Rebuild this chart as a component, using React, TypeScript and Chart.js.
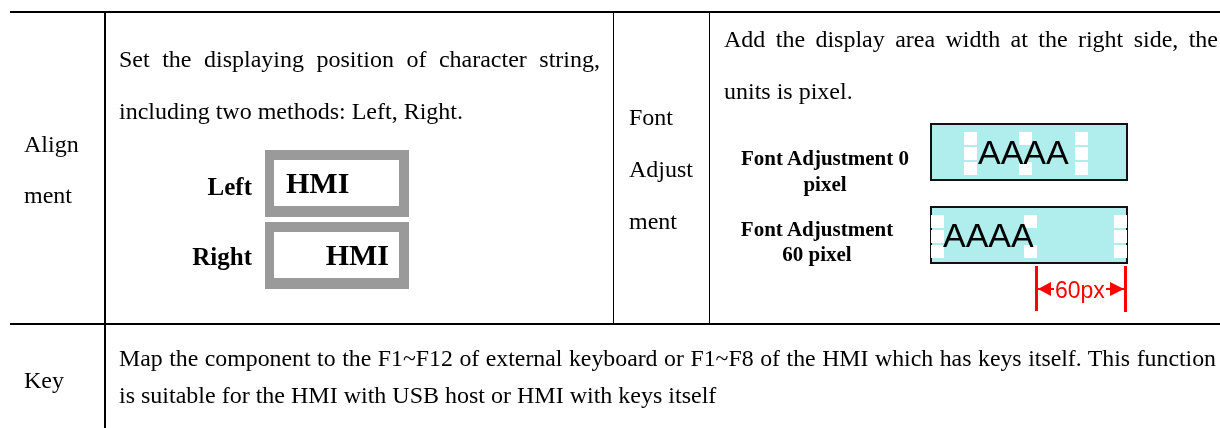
import React, { useEffect, useRef } from "react";
import { Chart, registerables } from "chart.js";

Chart.register(...registerables);

// ---- content ----
const ROW_LABELS = [["Align", "ment"], ["Font", "Adjust", "ment"], ["Key"]];
const ALIGN_DESC = [
  "Set the displaying position of character string,",
  "including two methods: Left, Right.",
];
const ALIGN_OPTIONS = ["Left", "Right"];
const SAMPLE_TEXT = "HMI";
const ADJ_DESC = [
  "Add the display area width at the right side, the",
  "units is pixel.",
];
const ADJ_VALUES = [0, 60];
const ADJ_SAMPLE = "AAAA";
const KEY_DESC = [
  "Map the component to the F1~F12 of external keyboard or F1~F8 of the HMI which has keys itself. This function",
  "is suitable for the HMI with USB host or HMI with keys itself",
];

const W = 1220;
const H = 428;
const SERIF = '"Liberation Serif", "Times New Roman", serif';
const SANS = '"Liberation Sans", Arial, sans-serif';

type TP = {
  x: number;
  base: number;
  fs: number;
  bold?: boolean;
  sans?: boolean;
  align?: "left" | "right" | "center" | "justify";
  width?: number;
  color?: string;
  children: React.ReactNode;
};

function T({ x, base, fs, bold, sans, align = "left", width = 600, color = "#000", children }: TP) {
  const off = (sans ? 0.8465 : 0.8375) * fs;
  let left = x;
  if (align === "right") left = x - width;
  if (align === "center") left = x - width / 2;
  const style: React.CSSProperties = {
    position: "absolute",
    left,
    top: base - off,
    width,
    fontFamily: sans ? SANS : SERIF,
    fontSize: fs,
    lineHeight: `${fs}px`,
    fontWeight: bold ? 700 : 400,
    color,
    textAlign: align,
    margin: 0,
    whiteSpace: align === "justify" ? "normal" : "nowrap",
  };
  if (align === "justify") (style as any).textAlignLast = "justify";
  return <div style={style}>{children}</div>;
}

export default function App() {
  const ref = useRef<HTMLCanvasElement | null>(null);

  useEffect(() => {
    document.body.style.margin = "0";
    document.body.style.overflow = "hidden";
    const canvas = ref.current;
    if (!canvas) return;

    const tablePlugin = {
      id: "tableDrawing",
      afterDraw(chart: any) {
        const { ctx } = chart;
        const sx = chart.scales.x;
        const sy = chart.scales.y;
        const px = (v: number) => sx.getPixelForValue(v);
        const py = (v: number) => sy.getPixelForValue(v);
        const rect = (x0: number, y0: number, w: number, h: number, c: string) => {
          ctx.fillStyle = c;
          ctx.fillRect(px(x0), py(y0), px(x0 + w) - px(x0), py(y0 + h) - py(y0));
        };
        ctx.save();
        // table rules
        rect(10, 11, 1210, 2, "#000");
        rect(10, 323, 1210, 2, "#000");
        rect(104, 11, 2, 417, "#000");
        rect(613, 13, 1, 310, "#000");
        rect(709, 13, 1, 310, "#000");

        // alignment sample frames
        ALIGN_OPTIONS.forEach((_, i) => {
          const y0 = 150 + i * 72;
          rect(265, y0, 144, 67, "#9a9a9a");
          rect(274, y0 + 10, 125, 46, "#ffffff");
        });

        // font adjustment boxes
        const boxes = [
          { y: 123, cols: [964, 1019, 1075] },
          { y: 206, cols: [931, 1024, 1114] },
        ];
        ADJ_VALUES.forEach((_, i) => {
          const b = boxes[i];
          rect(930, b.y, 198, 58, "#b0eeee");
          ctx.strokeStyle = "#111";
          ctx.lineWidth = 2;
          ctx.strokeRect(px(931), py(b.y + 1), px(1127) - px(931), py(b.y + 57) - py(b.y + 1));
          const rows = [b.y + 9, b.y + 24, b.y + 39];
          b.cols.forEach((cx, ci) => {
            rows.forEach((ry, ri) => {
              if (ci === 1 && ri === 1) return;
              rect(cx, ry, 13, 13, "#ffffff");
            });
          });
        });

        // red dimension marker
        const red = "#ff0000";
        rect(1035, 266, 3, 45, red);
        rect(1124, 266, 3, 46, red);
        rect(1038, 288, 16, 2, red);
        rect(1106, 288, 19, 2, red);
        ctx.fillStyle = red;
        ctx.beginPath();
        ctx.moveTo(px(1038), py(289));
        ctx.lineTo(px(1051), py(282));
        ctx.lineTo(px(1051), py(296));
        ctx.closePath();
        ctx.fill();
        ctx.beginPath();
        ctx.moveTo(px(1124), py(289));
        ctx.lineTo(px(1110), py(282));
        ctx.lineTo(px(1110), py(296));
        ctx.closePath();
        ctx.fill();
        ctx.restore();
      },
    };

    const chart = new Chart(canvas, {
      type: "scatter",
      data: { datasets: [] },
      options: {
        animation: false,
        responsive: false,
        maintainAspectRatio: false,
        events: [],
        layout: { padding: 0 },
        plugins: { legend: { display: false }, tooltip: { enabled: false } },
        scales: {
          x: { type: "linear", display: false, min: 0, max: W },
          y: { type: "linear", display: false, min: 0, max: H, reverse: true },
        },
      },
      plugins: [tablePlugin],
    } as any);
    return () => chart.destroy();
  }, []);

  return (
    <div
      style={{
        position: "absolute",
        left: 0,
        top: 0,
        width: W,
        height: H,
        overflow: "hidden",
        background: "#fff",
      }}
    >
      <canvas ref={ref} width={W} height={H} style={{ position: "absolute", left: 0, top: 0, display: "block" }} />

      {/* Row 1: Alignment */}
      <T x={24} base={152} fs={24}>{ROW_LABELS[0][0]}</T>
      <T x={24} base={203} fs={24}>{ROW_LABELS[0][1]}</T>
      <T x={119} base={67} fs={24} align="justify" width={481}>{ALIGN_DESC[0]}</T>
      <T x={119} base={119} fs={24}>{ALIGN_DESC[1]}</T>
      <T x={252} base={195} fs={25} bold align="right" width={100}>{ALIGN_OPTIONS[0]}</T>
      <T x={252} base={265} fs={25} bold align="right" width={100}>{ALIGN_OPTIONS[1]}</T>
      <T x={286} base={193} fs={30} bold>{SAMPLE_TEXT}</T>
      <T x={389} base={265} fs={30} bold align="right" width={120}>{SAMPLE_TEXT}</T>

      {/* Font Adjustment */}
      <T x={629} base={125} fs={24}>{ROW_LABELS[1][0]}</T>
      <T x={629} base={177} fs={24}>{ROW_LABELS[1][1]}</T>
      <T x={629} base={229} fs={24}>{ROW_LABELS[1][2]}</T>
      <T x={724} base={47} fs={24} align="justify" width={494}>{ADJ_DESC[0]}</T>
      <T x={724} base={99} fs={24}>{ADJ_DESC[1]}</T>
      <T x={825} base={166} fs={21} bold align="center" width={240}>{`Font Adjustment ${ADJ_VALUES[0]}`}</T>
      <T x={825} base={192} fs={21} bold align="center" width={240}>pixel</T>
      <T x={817} base={237} fs={21} bold align="center" width={240}>Font Adjustment</T>
      <T x={817} base={262} fs={21} bold align="center" width={240}>{`${ADJ_VALUES[1]} pixel`}</T>
      <T x={978} base={164} fs={34} sans>{ADJ_SAMPLE}</T>
      <T x={943} base={247} fs={34} sans>{ADJ_SAMPLE}</T>
      <T x={1055} base={298} fs={23} sans color="#ff0000">{`${ADJ_VALUES[1]}px`}</T>

      {/* Key */}
      <T x={24} base={388} fs={24}>{ROW_LABELS[2][0]}</T>
      <T x={119} base={367} fs={23.8} align="justify" width={1097}>{KEY_DESC[0]}</T>
      <T x={119} base={403} fs={24}>{KEY_DESC[1]}</T>
    </div>
  );
}
